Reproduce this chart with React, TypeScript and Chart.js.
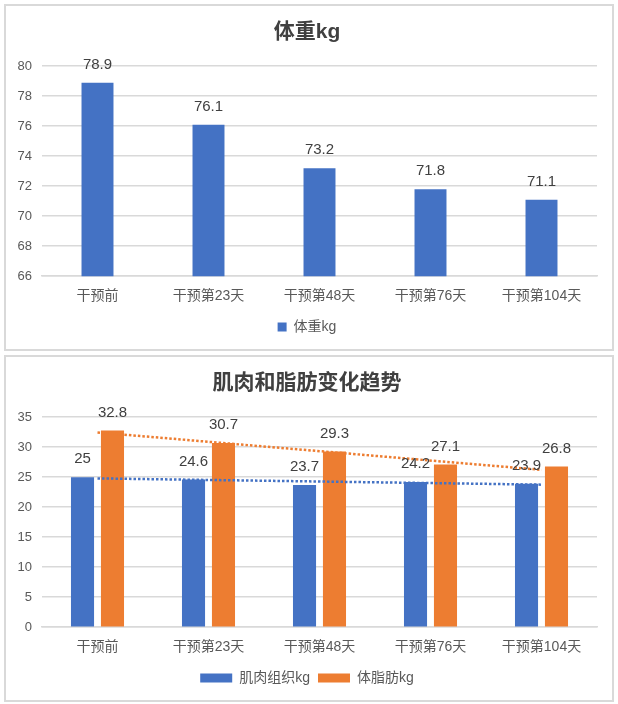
import React, { useEffect, useRef } from "react";
import { Chart, registerables } from "chart.js";

Chart.register(...registerables);

const stages = ["干预前", "干预第23天", "干预第48天", "干预第76天", "干预第104天"];
const weight = [78.9, 76.1, 73.2, 71.8, 71.1];
const muscle = [25, 24.6, 23.7, 24.2, 23.9];
const fat = [32.8, 30.7, 29.3, 27.1, 26.8];

const BLUE = "#4472C4";
const ORANGE = "#ED7D31";
const GRID = "#D9D9D9";
const FONT = "'Liberation Sans', 'Noto Sans CJK SC', sans-serif";

// least squares line, same as Excel's linear trendline
const fit = (ys: number[]) => {
    const n = ys.length;
    const mx = (n - 1) / 2;
    const my = ys.reduce((a, b) => a + b, 0) / n;
    let sxy = 0;
    let sxx = 0;
    ys.forEach((y, i) => {
        sxy += (i - mx) * (y - my);
        sxx += (i - mx) ** 2;
    });
    const k = sxy / sxx;
    return (i: number) => my + k * (i - mx);
};

const barExtras = {
    id: "barExtras",
    afterDatasetsDraw(chart: any, _args: any, opts: any) {
        const { ctx } = chart;
        const x = chart.scales.x;
        const y = chart.scales.y;
        ctx.save();
        if (opts.trend) {
            chart.data.datasets.forEach((ds: any) => {
                const vals = ds.data as number[];
                const f = fit(vals);
                const last = vals.length - 1;
                ctx.beginPath();
                ctx.strokeStyle = ds.backgroundColor;
                ctx.lineWidth = 2.5;
                ctx.setLineDash([2.5, 2]);
                ctx.moveTo(x.getPixelForValue(0), y.getPixelForValue(f(0)));
                ctx.lineTo(x.getPixelForValue(last), y.getPixelForValue(f(last)));
                ctx.stroke();
            });
        }
        ctx.setLineDash([]);
        ctx.fillStyle = "#404040";
        ctx.font = `15px ${FONT}`;
        ctx.textAlign = "center";
        ctx.textBaseline = "middle";
        chart.data.datasets.forEach((ds: any, di: number) => {
            chart.getDatasetMeta(di).data.forEach((el: any, i: number) => {
                ctx.fillText(String(ds.data[i]), el.x, el.y - 18);
            });
        });
        ctx.restore();
    },
};

interface PanelProps {
    top: number;
    title: string;
    datasets: { label: string; data: number[]; color: string }[];
    min: number;
    max: number;
    step: number;
    cp: number;
    bp: number;
    boxWidth: number;
    trend: boolean;
}

function BarPanel({ top, title, datasets, min, max, step, cp, bp, boxWidth, trend }: PanelProps) {
    const ref = useRef<HTMLCanvasElement | null>(null);

    useEffect(() => {
        if (!ref.current) return;

        const chart = new Chart(ref.current, {
            type: "bar",
            data: {
                labels: stages,
                datasets: datasets.map((d) => ({
                    label: d.label,
                    data: d.data,
                    backgroundColor: d.color,
                    categoryPercentage: cp,
                    barPercentage: bp,
                })),
            },
            options: {
                animation: false,
                responsive: true,
                maintainAspectRatio: false,
                layout: { padding: { left: 11, right: 15, top: 0, bottom: 5 } },
                plugins: {
                    title: {
                        display: true,
                        text: title,
                        color: "#404040",
                        font: { family: FONT, size: 21, weight: "bold" },
                        padding: { top: 14, bottom: 21 },
                    },
                    legend: {
                        position: "bottom",
                        labels: {
                            color: "#595959",
                            font: { family: FONT, size: 14 },
                            boxWidth,
                            boxHeight: 9,
                            padding: 8,
                        },
                    },
                    tooltip: { enabled: false },
                    barExtras: { trend },
                } as any,
                scales: {
                    x: {
                        grid: { display: false },
                        border: { color: GRID, width: 1.5 },
                        ticks: {
                            color: "#595959",
                            font: { family: FONT, size: 14 },
                            padding: 4,
                        },
                        afterFit: (s: any) => {
                            s.height += 3;
                        },
                    },
                    y: {
                        min,
                        max,
                        grid: { color: GRID, lineWidth: 1.5, drawTicks: false },
                        border: { display: false },
                        ticks: {
                            stepSize: step,
                            color: "#595959",
                            font: { family: FONT, size: 13 },
                            padding: 10,
                        },
                        afterFit: (s: any) => {
                            s.width = 25;
                        },
                    },
                },
            },
            plugins: [barExtras],
        });

        return () => chart.destroy();
    }, []);

    return (
        <div
            style={{
                position: "absolute",
                left: 4,
                top,
                width: 606,
                height: 343,
                border: `2px solid ${GRID}`,
                background: "#fff",
            }}
        >
            <canvas ref={ref} />
        </div>
    );
}

export default function App() {
    return (
        <div
            style={{
                position: "fixed",
                left: 0,
                top: 0,
                width: 618,
                height: 704,
                background: "#fff",
            }}
        >
            <BarPanel
                top={4}
                title="体重kg"
                datasets={[{ label: "体重kg", data: weight, color: BLUE }]}
                min={66}
                max={80}
                step={2}
                cp={0.8}
                bp={0.36}
                boxWidth={9}
                trend={false}
            />
            <BarPanel
                top={355}
                title="肌肉和脂肪变化趋势"
                datasets={[
                    { label: "肌肉组织kg", data: muscle, color: BLUE },
                    { label: "体脂肪kg", data: fat, color: ORANGE },
                ]}
                min={0}
                max={35}
                step={5}
                cp={0.54}
                bp={0.77}
                boxWidth={32}
                trend={true}
            />
        </div>
    );
}
